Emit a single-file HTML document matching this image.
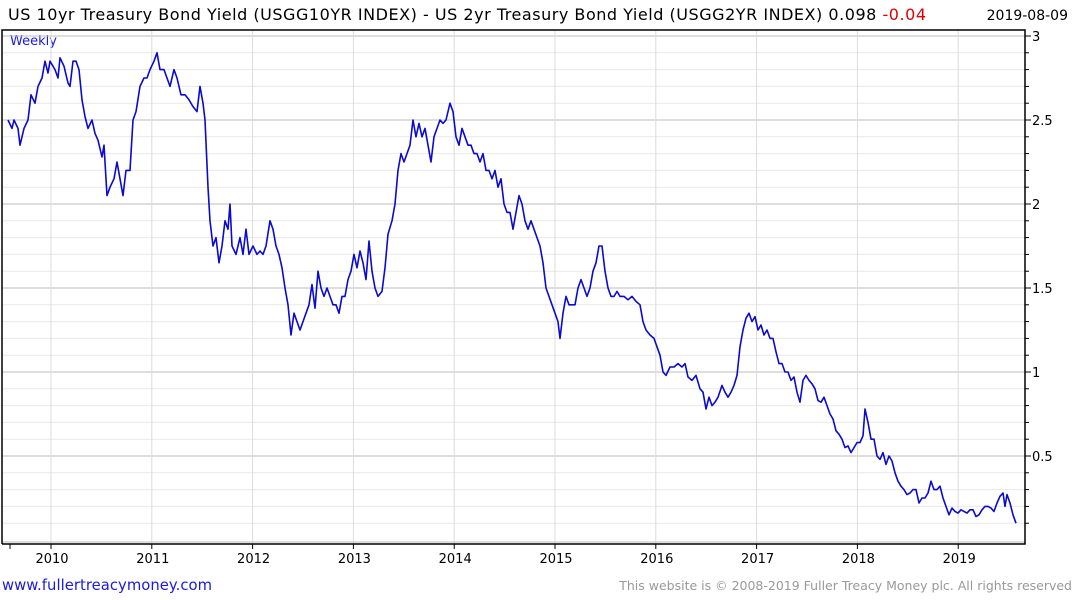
<!DOCTYPE html>
<html><head><meta charset="utf-8"><style>
body{margin:0;background:#fff;width:1075px;height:600px;overflow:hidden;font-family:"DejaVu Sans","Liberation Sans",sans-serif}
svg{display:block}
</style></head><body>
<svg id="c" width="1075" height="600">
<text x="8" y="20" font-size="16" textLength="918" lengthAdjust="spacing" fill="#000">US 10yr Treasury Bond Yield (USGG10YR INDEX) - US 2yr Treasury Bond Yield (USGG2YR INDEX) 0.098 <tspan fill="#e00000">-0.04</tspan></text>
<text x="1068" y="20" font-size="14" text-anchor="end" fill="#000">2019-08-09</text>
<text x="10" y="45" font-size="13" fill="#1a1ad8">Weekly</text>
<g id="grid"></g><g id="axes"></g><g id="series"></g>
<text x="2" y="590" font-size="14.8" textLength="210" lengthAdjust="spacing" fill="#1a1ae0">www.fullertreacymoney.com</text>
<text x="1072" y="590" font-size="12.5" text-anchor="end" fill="#999">This website is © 2008-2019 Fuller Treacy Money plc. All rights reserved</text>
</svg>
<script>
const xs=[8,12,14,18,20,24,28,31,35,38,42,45,48,50,55,58,60,64,68,70,73,76,79,82,85,88,92,95,98,102,104,107,110,114,117,120,123,126,130,133,136,140,144,147,150,154,157,160,164,167,170,174,177,181,185,189,193,197,200,203,205,208,210,213,216,219,222,225,228,230,232,236,240,243,246,249,253,257,260,263,266,270,273,276,279,282,285,288,291,294,297,300,303,306,309,312,315,318,321,324,327,330,333,336,339,342,345,348,351,354,357,360,363,366,369,372,375,378,382,385,388,392,395,398,401,404,407,410,413,416,419,422,425,428,431,434,437,440,443,446,450,453,456,459,462,465,468,471,474,477,480,483,486,489,492,495,498,501,504,507,510,513,516,519,522,525,528,531,534,537,540,543,546,549,552,555,558,560,563,566,569,572,575,578,581,584,587,590,593,596,599,602,605,608,611,614,617,620,624,628,632,636,640,643,646,650,654,657,660,663,666,670,674,678,682,685,688,692,696,700,703,706,709,712,715,718,722,725,728,731,734,737,740,743,746,749,752,755,758,761,764,767,770,773,776,779,782,785,788,791,794,797,800,803,806,809,812,815,818,821,824,827,830,833,836,839,842,845,848,851,854,857,860,863,865,868,871,874,877,880,883,886,889,892,895,898,901,904,907,910,913,916,919,922,925,928,931,934,937,940,943,946,949,952,955,958,961,964,967,970,973,976,979,982,985,988,991,994,997,1000,1003,1005,1007,1010,1013,1016];
const dates=xs.map(x=>+(2010+(x-51)/100.8).toFixed(3));
const values=[2.5,2.45,2.5,2.45,2.35,2.45,2.5,2.65,2.6,2.7,2.75,2.85,2.78,2.85,2.8,2.75,2.87,2.82,2.72,2.7,2.85,2.85,2.8,2.62,2.52,2.45,2.5,2.42,2.38,2.28,2.35,2.05,2.1,2.15,2.25,2.15,2.05,2.2,2.2,2.5,2.55,2.7,2.75,2.75,2.8,2.85,2.9,2.8,2.8,2.75,2.7,2.8,2.75,2.65,2.65,2.62,2.58,2.55,2.7,2.6,2.5,2.1,1.9,1.75,1.8,1.65,1.75,1.9,1.85,2.0,1.75,1.7,1.8,1.7,1.85,1.7,1.75,1.7,1.72,1.7,1.75,1.9,1.85,1.75,1.7,1.62,1.5,1.4,1.22,1.35,1.3,1.25,1.3,1.35,1.4,1.52,1.38,1.6,1.5,1.45,1.5,1.45,1.4,1.4,1.35,1.45,1.45,1.55,1.6,1.7,1.62,1.72,1.65,1.55,1.78,1.6,1.5,1.45,1.48,1.62,1.82,1.9,2.0,2.2,2.3,2.25,2.3,2.35,2.5,2.4,2.48,2.4,2.45,2.35,2.25,2.4,2.45,2.5,2.48,2.5,2.6,2.55,2.4,2.35,2.45,2.4,2.35,2.35,2.3,2.3,2.25,2.3,2.2,2.2,2.15,2.2,2.1,2.15,2.0,1.95,1.95,1.85,1.95,2.05,2.0,1.9,1.85,1.9,1.85,1.8,1.75,1.65,1.5,1.45,1.4,1.35,1.3,1.2,1.35,1.45,1.4,1.4,1.4,1.5,1.55,1.5,1.45,1.5,1.6,1.65,1.75,1.75,1.6,1.5,1.45,1.45,1.48,1.45,1.45,1.43,1.45,1.42,1.4,1.3,1.25,1.22,1.2,1.15,1.1,1.0,0.98,1.03,1.03,1.05,1.03,1.05,0.97,0.95,0.98,0.9,0.88,0.78,0.85,0.8,0.82,0.85,0.92,0.88,0.85,0.88,0.92,0.98,1.15,1.25,1.32,1.35,1.3,1.33,1.25,1.28,1.22,1.25,1.2,1.2,1.12,1.05,1.05,1.0,1.0,0.95,0.97,0.88,0.82,0.95,0.98,0.95,0.93,0.9,0.83,0.82,0.85,0.8,0.75,0.72,0.65,0.63,0.6,0.55,0.56,0.52,0.55,0.58,0.58,0.62,0.78,0.7,0.6,0.6,0.5,0.48,0.52,0.45,0.5,0.47,0.4,0.35,0.32,0.3,0.27,0.28,0.3,0.3,0.22,0.25,0.25,0.28,0.35,0.3,0.3,0.32,0.25,0.2,0.15,0.19,0.17,0.16,0.18,0.17,0.16,0.18,0.18,0.14,0.15,0.18,0.2,0.2,0.19,0.17,0.22,0.26,0.28,0.2,0.27,0.22,0.15,0.1];
const yTicks=[0.5,1,1.5,2,2.5,3];
const yTickLabels=["0.5","1","1.5","2","2.5","3"];
const years=[2010,2011,2012,2013,2014,2015,2016,2017,2018,2019];
const NS='http://www.w3.org/2000/svg';
const L=2,R=1025,T=30,B=544;
const X=d=>51+(d-2010)*100.8;
const Y=v=>540-v*168;
function mk(tag,attrs,parent){const e=document.createElementNS(NS,tag);for(const k in attrs)e.setAttribute(k,attrs[k]);document.getElementById(parent).appendChild(e);return e;}
for(let i=1;i<=30;i++){const v=i/10;const y=Y(v);if(y<T)continue;
 const major=i%5===0;
 const g=mk('line',{x1:L,x2:R,y1:y,y2:y,stroke:major?'#bdbdbd':'#e8e8e8','stroke-width':1},'grid');
 
 
 const t=mk('line',{x1:R,x2:R+(major?6:4),y1:y,y2:y,stroke:'#000'},'axes');
 
 
}
yTicks.forEach((v,i)=>{const t=mk('text',{x:R+7,y:Y(v)+5,'font-size':13,fill:'#000'},'axes');t.textContent=yTickLabels[i];
 
 });
years.forEach(yr=>{const x=X(yr);
 const g=mk('line',{x1:x,x2:x,y1:T,y2:B,stroke:'#dcdcdc'},'grid');
 
 
 const t=mk('line',{x1:x,x2:x,y1:B,y2:B+5,stroke:'#000'},'axes');
 
 
 const l=mk('text',{x:x+1,y:563,'font-size':13,'text-anchor':'middle',fill:'#000'},'axes');l.textContent=yr;
 
 });
const t0=mk('line',{x1:10,x2:10,y1:B,y2:B+5,stroke:'#000'},'axes');


const fr=mk('path',{d:`M${L},${B} V${T} H${R} V${B} H${L}`,fill:'none',stroke:'#000','stroke-width':1.5},'axes');


const bl=mk('line',{x1:L,x2:R,y1:B-2,y2:B-2,stroke:'#bbb'},'grid');


const pts=dates.map((d,i)=>X(d).toFixed(1)+','+Y(values[i]).toFixed(1)).join(' ');
const pl=mk('polyline',{points:pts,fill:'none',stroke:'#0a0ad0','stroke-width':1.6,'stroke-linejoin':'round'},'series');


</script>
</body></html>
